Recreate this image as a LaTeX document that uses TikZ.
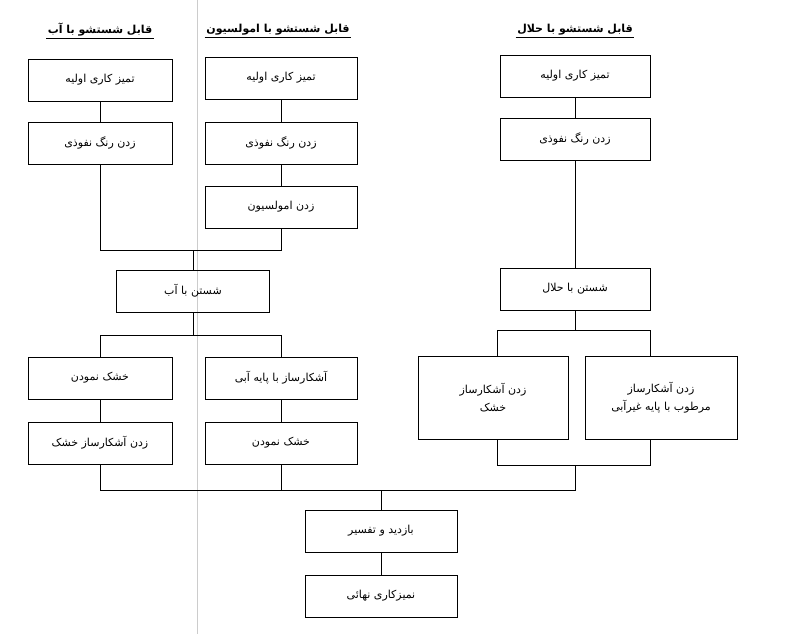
\documentclass[tikz,border=0pt]{standalone}
\usepackage{fontspec}
\newfontfamily\fafont[Script=Arabic]{DejaVu Sans}
\TeXXeTstate=1
\newcommand{\fa}[1]{\beginR #1\endR}
\begin{document}
\begin{tikzpicture}[x=1pt,y=-1pt,
  bx/.style={draw,line width=0.7pt,minimum width=144pt,minimum height=42pt,font=\fafont\fontsize{11}{16}\selectfont,align=center,inner sep=2pt},
  hd/.style={font=\fafont\bfseries\fontsize{11}{13}\selectfont,inner sep=1.5pt},
  ln/.style={line width=0.7pt}]
\useasboundingbox (0,0) rectangle (785,634);
\draw[gray!40,line width=0.5pt] (197,0) -- (197,634);
% headers
\node[hd] (h1) at (100,30) {\fa{قابل شستشو با آب}};
\node[hd] (h2) at (278,30) {\fa{قابل شستشو با امولسیون}};
\node[hd] (h3) at (575,30) {\fa{قابل شستشو با حلال}};
\draw[ln] (h1.south west) -- (h1.south east);
\draw[ln] (h2.south west) -- (h2.south east);
\draw[ln] (h3.south west) -- (h3.south east);
% boxes
\node[bx] (l1) at (100,80) {\fa{تمیز کاری اولیه}};
\node[bx] (l2) at (100,143) {\fa{زدن رنگ نفوذی}};
\node[bx,minimum width=152pt] (m1) at (281,78) {\fa{تمیز کاری اولیه}};
\node[bx,minimum width=152pt] (m2) at (281,143) {\fa{زدن رنگ نفوذی}};
\node[bx,minimum width=152pt] (m3) at (281,207) {\fa{زدن امولسیون}};
\node[bx,minimum width=150pt] (r1) at (575,76) {\fa{تمیز کاری اولیه}};
\node[bx,minimum width=150pt] (r2) at (575,139) {\fa{زدن رنگ نفوذی}};
\node[bx,minimum width=153pt] (w) at (193,291) {\fa{شستن با آب}};
\node[bx,minimum width=150pt] (s) at (575,289) {\fa{شستن با حلال}};
\node[bx] (a1) at (100,378) {\fa{خشک نمودن}};
\node[bx,minimum width=152pt] (a2) at (281,378) {\fa{آشکارساز با پایه آبی}};
\node[bx] (a3) at (100,443) {\fa{زدن آشکارساز خشک}};
\node[bx,minimum width=152pt] (a4) at (281,443) {\fa{خشک نمودن}};
\node[bx,minimum width=150pt,minimum height=83pt] (b1) at (493,398) {\fa{زدن آشکارساز}\\[2pt]\fa{خشک}};
\node[bx,minimum width=152pt,minimum height=83pt] (b2) at (661,398) {\fa{زدن آشکارساز}\\[2pt]\fa{مرطوب با پایه غیرآبی}};
\node[bx,minimum width=152pt] (f1) at (381,531) {\fa{بازدید و تفسیر}};
\node[bx,minimum width=152pt] (f2) at (381,596) {\fa{نمیزکاری نهائی}};
% connectors
\coordinate (j1) at (100,250); \coordinate (j2) at (281,250);
\draw[ln] (l1) -- (l2); \draw[ln] (m1) -- (m2); \draw[ln] (m2) -- (m3); \draw[ln] (r1) -- (r2);
\draw[ln] (l2) -- (j1) -- (j2) -- (m3);
\draw[ln] (193,250) -- (w);
\draw[ln] (r2) -- (s);
\coordinate (k1) at (100,335); \coordinate (k2) at (281,335);
\draw[ln] (w) -- (193,335);
\draw[ln] (a1) -- (k1) -- (k2) -- (a2);
\draw[ln] (a1) -- (a3); \draw[ln] (a2) -- (a4);
\coordinate (q1) at (497,330); \coordinate (q2) at (650,330);
\draw[ln] (s) -- (575,330);
\draw[ln] (b1.north -| q1) -- (q1) -- (q2) -- (b2.north -| q2);
\coordinate (p1) at (497,465); \coordinate (p2) at (650,465);
\draw[ln] (b1.south -| p1) -- (p1) -- (p2) -- (b2.south -| p2);
\coordinate (g1) at (100,490); \coordinate (g2) at (575,490);
\draw[ln] (a3) -- (g1) -- (g2) -- (575,465);
\draw[ln] (a4) -- (281,490);
\draw[ln] (381,490) -- (f1);
\draw[ln] (f1) -- (f2);
\end{tikzpicture}
\end{document}
